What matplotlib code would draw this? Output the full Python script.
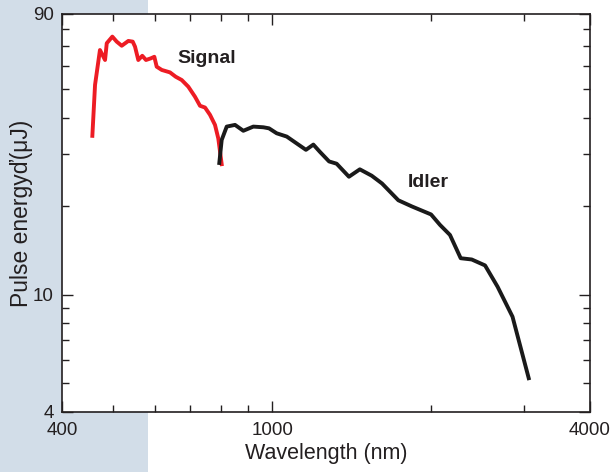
import matplotlib
matplotlib.use("Agg")
import matplotlib.pyplot as plt
from matplotlib.ticker import FixedLocator, NullFormatter, FixedFormatter

plt.rcParams['font.family'] = ['Liberation Sans', 'DejaVu Sans']

# Signal (nm, uJ)
signal_wl = [456.6, 462, 472, 482.6, 486.2, 498.2, 507.8, 519, 534.2, 544.5, 550,
             557.9, 567.7, 576.9, 589, 598.3, 604.5, 618, 640.6, 656.7, 674.2,
             693.9, 714.5, 730.2, 746.3, 762.7, 779.5, 790.8, 802.6]
signal_e = [34.7, 51.7, 67.9, 62.8, 71.6, 75.4, 72.5, 70.2, 72.9, 72.5, 69.7,
            62.8, 64.9, 62.8, 63.6, 64.4, 59.6, 58.1, 57.0, 55.1, 53.7,
            50.96, 47.1, 43.9, 43.3, 40.9, 37.8, 34.0, 27.8]

# Idler (nm, uJ)
idler_wl = [794.3, 802.6, 820.4, 850.6, 882, 921.3, 962.6, 986.5, 1020, 1066, 1113,
            1159, 1197, 1232, 1282, 1325, 1398, 1466, 1544, 1615, 1734, 1840,
            2000, 2080, 2172, 2276, 2388, 2531, 2673, 2853, 3062]
idler_e = [28.06, 33.6, 37.3, 37.8, 36.1, 37.3, 37.1, 36.8, 35.4, 34.5, 32.7,
           31.1, 32.4, 30.6, 28.4, 27.9, 25.2, 26.7, 25.4, 23.9, 20.96, 19.97,
           18.76, 17.28, 15.98, 13.32, 13.19, 12.59, 10.66, 8.43, 5.21]

x_ticks = [400, 1000, 4000]
x_minor = [500, 600, 700, 800, 900, 2000, 3000]
y_ticks = [4, 10, 90]
y_minor = [5, 6, 7, 8, 9, 20, 30, 40, 50, 60, 70, 80]

txt = '#231f20'
fig = plt.figure(figsize=(6.13, 4.72), dpi=100)
bg = fig.add_axes([0, 0, 148/613, 1], zorder=-5)
bg.set_facecolor('#d2dde8')
bg.set_xticks([]); bg.set_yticks([])
for s in bg.spines.values():
    s.set_visible(False)

ax = fig.add_axes([62/613, 1-412/472, 528/613, 398/472], zorder=1)
ax.set_facecolor('white')
ax.set_xscale('log')
ax.set_yscale('log')
ax.set_xlim(400, 4000)
ax.set_ylim(4, 90)

ax.plot(signal_wl, signal_e, color='#ed1c24', lw=2.8, solid_joinstyle='round', zorder=3)
ax.plot(idler_wl, idler_e, color='#1a1a1a', lw=2.8, solid_joinstyle='round', zorder=3)

ax.xaxis.set_major_locator(FixedLocator(x_ticks))
ax.xaxis.set_major_formatter(FixedFormatter([str(v) for v in x_ticks]))
ax.xaxis.set_minor_locator(FixedLocator(x_minor))
ax.xaxis.set_minor_formatter(NullFormatter())
ax.yaxis.set_major_locator(FixedLocator(y_ticks))
ax.yaxis.set_major_formatter(FixedFormatter([str(v) for v in y_ticks]))
ax.yaxis.set_minor_locator(FixedLocator(y_minor))
ax.yaxis.set_minor_formatter(NullFormatter())

ax.tick_params(which='both', direction='in', top=True, right=True, colors=txt,
               labelcolor=txt, labelsize=13.5, width=1.0)
ax.tick_params(which='major', length=8)
ax.tick_params(which='minor', length=5)
ax.tick_params(axis='x', which='major', pad=7)
ax.tick_params(axis='y', which='major', pad=6)
for s in ax.spines.values():
    s.set_linewidth(1.2)
    s.set_color(txt)

ax.set_xlabel('Wavelength (nm)', fontsize=15.5, color=txt, labelpad=3)
ax.set_ylabel('Pulse energyď(μJ)', fontsize=16.5, color=txt, labelpad=0)

ax.text(753, 63.3, 'Signal', fontsize=14, fontweight='bold', color=txt,
        ha='center', va='center')
ax.text(1975, 24.1, 'Idler', fontsize=14, fontweight='bold', color=txt,
        ha='center', va='center')

fig.savefig('out.png', dpi=100)
